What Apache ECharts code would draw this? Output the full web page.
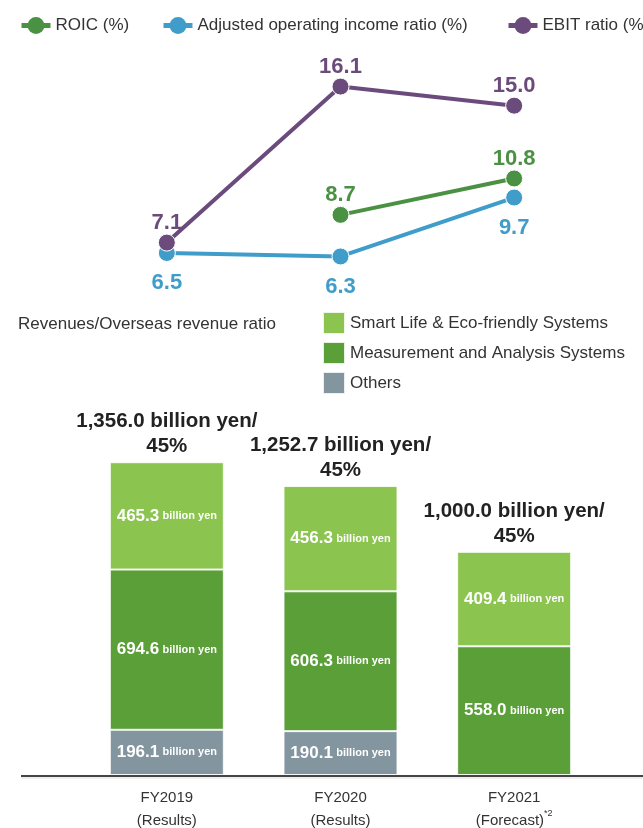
<!DOCTYPE html>
<html><head><meta charset="utf-8">
<script src="https://cdn.jsdelivr.net/npm/echarts@6/dist/echarts.min.js"></script>
<style>html,body{margin:0;padding:0;background:#fff}#c{width:643px;height:828px}</style>
</head><body><div id="c"></div>
<script>
const categories = ['FY2019', 'FY2020', 'FY2021'];
const catNotes = ['(Results)', '(Results)', '(Forecast)'];
const roic = [null, 8.7, 10.8];
const adjOpRatio = [6.5, 6.3, 9.7];
const ebitRatio = [7.1, 16.1, 15.0];
const smartLife = [465.3, 456.3, 409.4];
const measurement = [694.6, 606.3, 558.0];
const others = [196.1, 190.1, null];
const totals = ['1,356.0', '1,252.7', '1,000.0'];
const overseasRatio = [45, 45, 45];

const FONT = '"Liberation Sans", Arial, sans-serif';
const C = {
  roic: '#4b9143', adj: '#409dca', ebit: '#6b4b7c',
  smart: '#8bc54f', meas: '#5a9f37', oth: '#83959f'
};

const chart = echarts.init(document.getElementById('c'));
const lineLabel = (color, pos, dist) => ({
  show: true, position: pos, distance: dist, color: color,
  fontFamily: FONT, fontWeight: 'bold', fontSize: 22,
  formatter: p => p.value == null ? '' : Number(p.value).toFixed(1)
});
const segLabel = {
  show: true, position: 'inside', color: '#fff',
  formatter: p => '{n|' + p.value.toFixed(1) + '} {u|billion yen}',
  rich: {
    n: { fontFamily: FONT, fontWeight: 'bold', fontSize: 17, color: '#fff' },
    u: { fontFamily: FONT, fontWeight: 'bold', fontSize: 11, color: '#fff' }
  }
};
const legendText = { fontFamily: FONT, fontSize: 17, color: '#333' };
const topLegend = (name, left) => ({
  data: [name], left: left, top: 17, padding: 0,
  itemWidth: 29, itemHeight: 21, itemGap: 5, textStyle: legendText,
  lineStyle: { width: 5 }, itemStyle: { borderWidth: 0 }
});

chart.setOption({
  animation: false,
  legend: [
    topLegend('ROIC (%)', 19),
    topLegend('Adjusted operating income ratio (%)', 161),
    topLegend('EBIT ratio (%)', 506),
    { data: ['Smart Life & Eco-friendly Systems', 'Measurement and Analysis Systems', 'Others'],
      orient: 'vertical', left: 322, top: 311, padding: 0, itemWidth: 22, itemHeight: 22, itemGap: 6,
      icon: 'rect', textStyle: legendText }
  ],
  graphic: [
    { type: 'text', left: 18, top: 316, style: { text: 'Revenues/Overseas revenue ratio', font: '17px ' + FONT, fill: '#333' } },
    { type: 'line', shape: { x1: 21, y1: 776, x2: 643, y2: 776 }, style: { stroke: '#444', lineWidth: 2 } },
    { type: 'line', shape: { x1: 21, y1: 778, x2: 643, y2: 778 }, style: { stroke: '#ddd', lineWidth: 1 } }
  ],
  grid: [
    { left: 80, right: 42, top: 71, height: 208, outerBoundsMode: 'none', containLabel: false },
    { left: 80, right: 42, top: 429, height: 346, outerBoundsMode: 'none', containLabel: false }
  ],
  xAxis: [
    { type: 'category', gridIndex: 0, data: categories, show: false },
    { type: 'category', gridIndex: 1, data: categories,
      axisLine: { show: false }, axisTick: { show: false },
      axisLabel: {
        margin: 11, color: '#333', lineHeight: 23,
        formatter: (v, i) => '{a|' + v + '}\n{a|' + catNotes[i] + '}' + (i === 2 ? '{s|*2}' : ''),
        rich: {
          a: { fontFamily: FONT, fontSize: 15, color: '#333', lineHeight: 23 },
          s: { fontFamily: FONT, fontSize: 9, color: '#333', verticalAlign: 'top', lineHeight: 23, padding: [0, 0, 8, 0] }
        }
      } }
  ],
  yAxis: [
    { type: 'value', gridIndex: 0, min: 5, max: 17, show: false, splitLine: { show: false } },
    { type: 'value', gridIndex: 1, min: 0, max: 1500, show: false, splitLine: { show: false } }
  ],
  series: [
    { name: 'Adjusted operating income ratio (%)', type: 'line', xAxisIndex: 0, yAxisIndex: 0, data: adjOpRatio,
      color: C.adj, symbol: 'circle', symbolSize: 17, z: 2,
      lineStyle: { width: 4, color: C.adj }, itemStyle: { color: C.adj, borderColor: '#fff', borderWidth: 1 },
      label: lineLabel(C.adj, 'bottom', 10) },
    { name: 'ROIC (%)', type: 'line', xAxisIndex: 0, yAxisIndex: 0, data: roic,
      color: C.roic, symbol: 'circle', symbolSize: 17, z: 3,
      lineStyle: { width: 4, color: C.roic }, itemStyle: { color: C.roic, borderColor: '#fff', borderWidth: 1 },
      label: lineLabel(C.roic, 'top', 0) },
    { name: 'EBIT ratio (%)', type: 'line', xAxisIndex: 0, yAxisIndex: 0, data: ebitRatio,
      color: C.ebit, symbol: 'circle', symbolSize: 17, z: 4,
      lineStyle: { width: 4, color: C.ebit }, itemStyle: { color: C.ebit, borderColor: '#fff', borderWidth: 1 },
      label: lineLabel(C.ebit, 'top', 0) },
    { name: 'Others', type: 'bar', xAxisIndex: 1, yAxisIndex: 1, stack: 'rev', data: others, barWidth: 114,
      itemStyle: { color: C.oth, borderColor: 'rgba(255,255,255,0.85)', borderWidth: 1 }, label: segLabel },
    { name: 'Measurement and Analysis Systems', type: 'bar', xAxisIndex: 1, yAxisIndex: 1, stack: 'rev', data: measurement, barWidth: 114,
      itemStyle: { color: C.meas, borderColor: 'rgba(255,255,255,0.85)', borderWidth: 1 }, label: segLabel },
    { name: 'Smart Life & Eco-friendly Systems', type: 'bar', xAxisIndex: 1, yAxisIndex: 1, stack: 'rev', data: smartLife, barWidth: 114,
      itemStyle: { color: C.smart, borderColor: 'rgba(255,255,255,0.85)', borderWidth: 1 }, label: segLabel },
    { name: 'totalLabel', type: 'bar', xAxisIndex: 1, yAxisIndex: 1, stack: 'rev', data: smartLife.map(() => 0), barWidth: 114,
      itemStyle: { color: 'transparent' }, silent: true,
      label: { show: true, position: 'top', distance: 3, color: '#222', lineHeight: 25,
        fontFamily: FONT, fontWeight: 'bold', fontSize: 20.5, align: 'center',
        formatter: p => totals[p.dataIndex] + ' billion yen/\n' + overseasRatio[p.dataIndex] + '%' } }
  ]
});
</script></body></html>
